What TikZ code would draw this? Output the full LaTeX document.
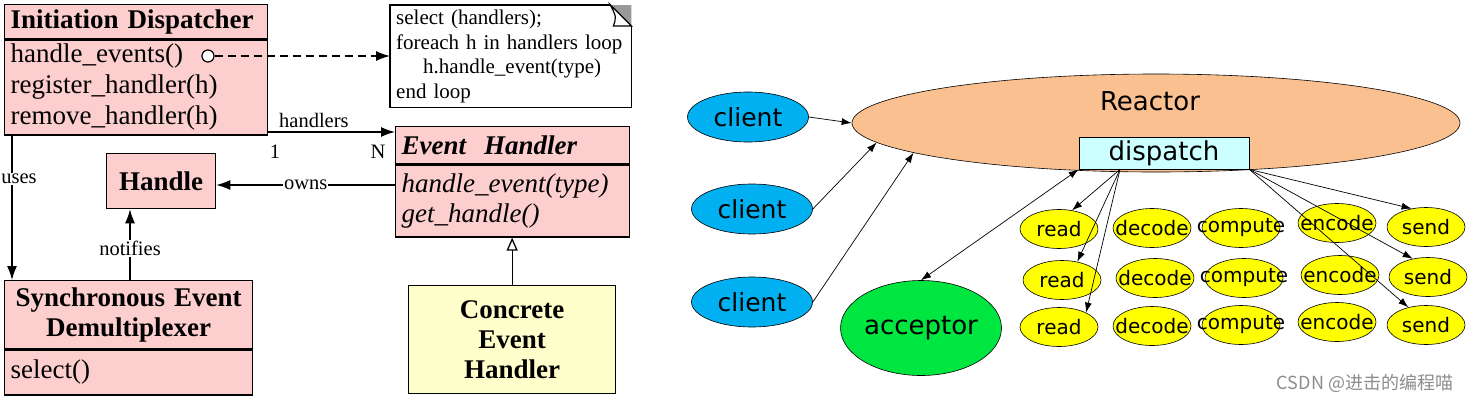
\documentclass[tikz,border=0pt]{standalone}
\usepackage{fontspec}
\setmainfont{Liberation Serif}
\newfontfamily\sansfnt{DejaVu Sans}
\newfontfamily\cjkfnt{Noto Sans CJK SC}
\usetikzlibrary{positioning, calc, shapes.geometric, arrows.meta}
\definecolor{umlpink}{RGB}{253,206,206}
\definecolor{umlyellow}{RGB}{255,255,204}
\definecolor{reactorpeach}{RGB}{250,192,143}
\definecolor{dispcyan}{RGB}{204,255,255}
\definecolor{clientblue}{RGB}{0,176,240}
\definecolor{acceptgreen}{RGB}{0,230,64}
\definecolor{taskyellow}{RGB}{255,255,0}
\newcommand{\zw}[1]{\makebox[0pt]{#1}}

\begin{document}
\begin{tikzpicture}[x=1pt, y=-1pt,
			umlhead/.style = {rectangle, draw, line width=1.3pt, fill=umlpink, anchor=north west, inner xsep=6pt, inner ysep=0pt, font=\fontsize{27}{30}\selectfont\bfseries},
			umlbody/.style = {rectangle, draw, line width=1.3pt, fill=umlpink, anchor=north west, inner xsep=6pt, inner ysep=0pt, align=left, font=\fontsize{27}{31}\selectfont},
			notebox/.style = {rectangle, fill=white, anchor=north west, inner xsep=6pt, inner ysep=0pt, align=left, font=\fontsize{21}{24.5}\selectfont},
			rel/.style = {line width=1.3pt, -{Latex[length=14pt,width=10pt]}},
			rellabel/.style = {font=\fontsize{20.5}{22}\selectfont, inner sep=1pt},
			client/.style = {ellipse, draw, line width=0.6pt, fill=clientblue, minimum width=121pt, minimum height=50pt, inner sep=0pt, font=\sansfnt\fontsize{25}{25}\selectfont},
			task/.style = {ellipse, draw, line width=0.6pt, fill=taskyellow, minimum width=78pt, minimum height=39pt, inner sep=0pt, font=\sansfnt\fontsize{20}{20}\selectfont},
			flow/.style = {line width=0.7pt, -{Latex[length=10pt,width=7pt]}},
		]
		\useasboundingbox (0,0) rectangle (1477,402);

		% left: class diagram
		\node[umlhead, text width=251pt, minimum height=34pt] (disphead) at (4,4) {Initiation Dispatcher};
		\node[umlbody, text width=251pt, minimum height=95pt] (dispbody) at (disphead.south west) {handle\_events()\\register\_handler(h)\\remove\_handler(h)};
		\node[circle, draw, fill=white, line width=1.2pt, inner sep=0pt, minimum size=12pt] (evdot) at (208,56) {};

		\node[notebox, text width=229pt, minimum height=102pt] (note) at (390,5) {select (handlers);\\foreach h in handlers loop\\\hspace*{27pt}h.handle\_event(type)\\end loop};
		\draw[line width=1.3pt] ([xshift=-21pt]note.north east) -- (note.north west) -- (note.south west) -- (note.south east) -- ([yshift=-21pt]note.north east);
		\fill[gray!80] ([xshift=-21pt]note.north east) -- (note.north east) -- ([yshift=-21pt]note.north east) -- cycle;
		\draw[line width=1.2pt, fill=white] ([xshift=-21pt]note.north east) .. controls ([xshift=-15pt,yshift=-12pt]note.north east) .. ([xshift=-18pt,yshift=-21pt]note.north east) -- ([yshift=-21pt]note.north east) -- cycle;

		\node[umlhead, text width=222pt, minimum height=37pt, font=\fontsize{27}{30}\selectfont\bfseries\itshape] (ehhead) at (395,126) {Event~ Handler};
		\node[umlbody, text width=222pt, minimum height=72pt, font=\fontsize{27}{30}\selectfont\itshape] (ehbody) at (ehhead.south west) {handle\_event(type)\\get\_handle()};

		\node[umlhead, minimum width=109pt, minimum height=55pt] (handle) at (106,153) {Handle};

		\node[umlhead, text width=236pt, minimum height=68pt, align=center] (synchead) at (4,280) {Synchronous Event\\Demultiplexer};
		\node[umlbody, text width=236pt, minimum height=45pt] (syncbody) at (synchead.south west) {select()};

		\node[umlhead, fill=umlyellow, minimum width=207pt, minimum height=108pt, align=center] (concrete) at (408,285) {Concrete\\Event\\Handler};

		\draw[dashed, line width=1.3pt, dash pattern=on 8pt off 5pt, -{Latex[length=14pt,width=10pt]}] (evdot) -- (evdot -| note.west);

		\coordinate (hy) at (0,132);
		\draw[rel] (hy -| dispbody.east) -- node[rellabel, pos=0.36, above=3pt] {handlers} (hy -| ehhead.west);
		\node[rellabel] (one) at (275,152) {1};
		\node[rellabel] (many) at (378,152) {N};

		\coordinate (oy) at (0,185);
		\draw[rel] (oy -| ehbody.west) -- node[rellabel, pos=0.5, fill=white] {owns} (oy -| handle.east);

		\coordinate (ux) at (12,0);
		\draw[rel] (ux |- dispbody.south) -- node[rellabel, pos=0.3, fill=white, xshift=7pt] {uses} (ux |- synchead.north);

		\coordinate (nx) at (130,0);
		\draw[rel] (nx |- synchead.north) -- node[rellabel, pos=0.45, fill=white] {notifies} (nx |- handle.south);

		\draw[line width=1.3pt, -{Triangle[open, length=13pt, width=11pt]}] (concrete.north) -- (concrete.north |- ehbody.south);

		% right: reactor
		\node[ellipse, draw, line width=0.6pt, fill=reactorpeach, minimum width=608pt, minimum height=98pt, inner sep=0pt] (reactor) at (1156,123) {};
		\node[font=\sansfnt\fontsize{26}{26}\selectfont] (reactortxt) at (1150,101) {Reactor};
		\node[rectangle, draw, line width=0.8pt, fill=dispcyan, minimum width=170pt, minimum height=32pt, inner sep=0pt, font=\sansfnt\fontsize{26}{26}\selectfont] (dispatch) at (1164,153) {dispatch};

		\node[client] (client1) at (748,117) {client};
		\node[client] (client2) at (752,209) {client};
		\node[client] (client3) at (752,302) {client};
		\node[ellipse, draw, line width=0.6pt, fill=acceptgreen, minimum width=158pt, minimum height=95pt, inner sep=0pt, font=\sansfnt\fontsize{26}{26}\selectfont] (acceptor) at (921,328) {acceptor};

		\node[task] (read1) at (1059,229) {\zw{read}};
		\node[task] (decode1) at (1152,228) {\zw{decode}};
		\node[task] (compute1) at (1241,228) {\zw{compute}};
		\node[task] (encode1) at (1337,223) {\zw{encode}};
		\node[task] (send1) at (1426,227) {\zw{send}};

		\node[task] (read2) at (1062,280) {\zw{read}};
		\node[task] (decode2) at (1155,278) {\zw{decode}};
		\node[task] (compute2) at (1244,278) {\zw{compute}};
		\node[task] (encode2) at (1340,275) {\zw{encode}};
		\node[task] (send2) at (1428,277) {\zw{send}};

		\node[task] (read3) at (1059,327) {\zw{read}};
		\node[task] (decode3) at (1152,326) {\zw{decode}};
		\node[task] (compute3) at (1241,325) {\zw{compute}};
		\node[task] (encode3) at (1337,322) {\zw{encode}};
		\node[task] (send3) at (1426,325) {\zw{send}};

		\draw[flow] (client1.east) -- (reactor.west);
		\draw[flow] (client2.east) -- (reactor.184);
		\draw[flow] (client3.east) -- (reactor.187);
		\draw[line width=0.7pt, {Latex[length=10pt,width=7pt]}-{Latex[length=10pt,width=7pt]}] (dispatch.south west) -- (acceptor.north);

		\coordinate (dl) at ([xshift=-44pt]dispatch.south);
		\draw[flow] (dl) -- (read1.55);
		\draw[flow] (dl) -- (read2.50);
		\draw[flow] (dl) -- (read3.28);
		\draw[flow] (dispatch.south east) -- (send1.128);
		\draw[flow] (dispatch.south east) -- (send2.130);
		\draw[flow] (dispatch.south east) -- (send3.135);

		\node[font=\cjkfnt\fontsize{18}{18}\selectfont, text=gray!90] (mark) at (1365,383) {CSDN @进击的编程喵};
	\end{tikzpicture}
\end{document}
